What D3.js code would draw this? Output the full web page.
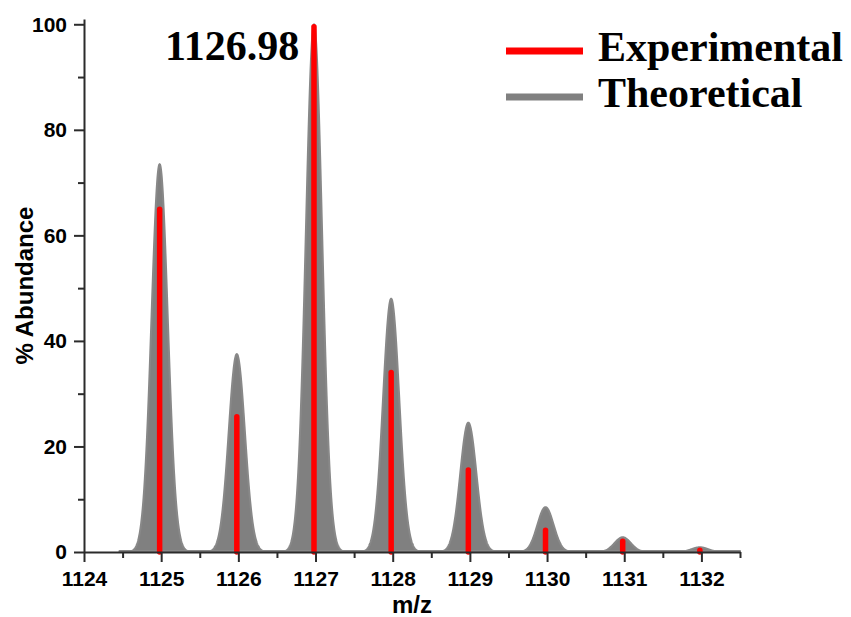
<!DOCTYPE html>
<html>
<head>
<meta charset="utf-8">
<script src="https://cdn.jsdelivr.net/npm/d3@7"></script>
<style>
  body { margin: 0; background: #fff; }
  .axis text { font-family: "Liberation Sans", Arial, sans-serif; font-weight: bold; font-size: 21px; fill: #000; }
  .axis path, .axis line { stroke: #2b2b2b; stroke-width: 2; }
</style>
</head>
<body>
<svg></svg>
<script>
var width = 851,
    height = 617

// theoretical isotope pattern (peak centres and % abundance)
var theoMz = [1124.98, 1125.98, 1126.98, 1127.98, 1128.98, 1129.98, 1130.98, 1131.98]
var theoAbund = [73.5, 37.5, 100, 48, 24.5, 8.5, 2.8, 0.9]

// experimental sticks
var expMz = [1124.98, 1125.98, 1126.98, 1127.98, 1128.98, 1129.98, 1130.98, 1131.98]
var expAbund = [65.4, 26.1, 100, 34.5, 16, 4.6, 2.5, 0.8]

var xTicks = [1124, 1125, 1126, 1127, 1128, 1129, 1130, 1131, 1132]
var xMinor = [1124.5, 1125.5, 1126.5, 1127.5, 1128.5, 1129.5, 1130.5, 1131.5, 1132.5]
var yTicks = [0, 20, 40, 60, 80, 100]
var yMinor = [10, 30, 50, 70, 90]

var peakLabel = "1126.98"
var legendItems = [
  {name: "Experimental", color: "#ff0000"},
  {name: "Theoretical", color: "#808080"}
]

var svg = d3.select("svg").attr("width", width).attr("height", height);

var x = d3.scaleLinear().domain([1124, 1132.5]).range([84, 740])
var y = d3.scaleLinear().domain([0, 101]).range([552, 19])

// gaussian profile for the theoretical peaks
var sigma = 0.105
var profile = d3.range(1124.46, 1132.5, 0.004).map(function(m) {
  var a = 0
  theoMz.forEach(function(c, i) {
    a += theoAbund[i] * Math.exp(-(m - c) * (m - c) / (2 * sigma * sigma))
  })
  return [m, a]
})
profile.push([1132.5, 0])

var area = d3.area()
  .x(function(d) { return x(d[0]) })
  .y0(y(0) - 1)
  .y1(function(d) { return y(d[1]) })

svg.append("path")
  .datum(profile)
  .attr("d", area)
  .attr("fill", "#808080")
  .attr("stroke", "#888")
  .attr("stroke-width", 2)
  .attr("stroke-linejoin", "round")

// experimental sticks
svg.selectAll(".stick")
  .data(expMz)
  .enter().append("line")
  .attr("class", "stick")
  .attr("x1", function(d) { return x(d) })
  .attr("x2", function(d) { return x(d) })
  .attr("y1", y(0))
  .attr("y2", function(d, i) { return y(expAbund[i]) + 2.5 })
  .attr("stroke", "#ff0000")
  .attr("stroke-width", 5.5)
  .attr("stroke-linecap", "round")

// axes
svg.append("g")
  .attr("class", "axis")
  .attr("transform", "translate(0," + y(0) + ")")
  .call(d3.axisBottom(x).tickValues(xTicks).tickSize(10).tickSizeOuter(0).tickPadding(9).tickFormat(d3.format("d")))

svg.append("g")
  .attr("class", "axis")
  .attr("transform", "translate(0," + y(0) + ")")
  .call(d3.axisBottom(x).tickValues(xMinor).tickSize(6).tickSizeOuter(0).tickFormat(""))
  .select(".domain").remove()

svg.append("g")
  .attr("class", "axis")
  .attr("transform", "translate(" + x(1124) + ",0)")
  .call(d3.axisLeft(y).tickValues(yTicks).tickSize(10).tickSizeOuter(0).tickPadding(7))

svg.append("g")
  .attr("class", "axis")
  .attr("transform", "translate(" + x(1124) + ",0)")
  .call(d3.axisLeft(y).tickValues(yMinor).tickSize(6).tickSizeOuter(0).tickFormat(""))
  .select(".domain").remove()

// axis titles
svg.append("text")
  .attr("x", (x.range()[0] + x.range()[1]) / 2)
  .attr("y", 613)
  .attr("text-anchor", "middle")
  .style("font-family", "'Liberation Sans', Arial, sans-serif")
  .style("font-weight", "bold")
  .style("font-size", "24px")
  .text("m/z")

svg.append("text")
  .attr("transform", "translate(33," + (y.range()[0] + y.range()[1]) / 2 + ") rotate(-90)")
  .attr("text-anchor", "middle")
  .style("font-family", "'Liberation Sans', Arial, sans-serif")
  .style("font-weight", "bold")
  .style("font-size", "24px")
  .text("% Abundance")

// peak label
svg.append("text")
  .attr("x", 165)
  .attr("y", 60)
  .style("font-family", "'Liberation Serif', 'Times New Roman', serif")
  .style("font-weight", "bold")
  .style("font-size", "42px")
  .text(peakLabel)

// legend
var legend = svg.selectAll(".legend")
  .data(legendItems)
  .enter().append("g")
  .attr("class", "legend")
  .attr("transform", function(d, i) { return "translate(506," + (51 + i * 46) + ")" })

legend.append("line")
  .attr("x1", 0)
  .attr("x2", 77)
  .attr("stroke", function(d) { return d.color })
  .attr("stroke-width", 7)

legend.append("text")
  .attr("x", 92)
  .attr("y", 10)
  .style("font-family", "'Liberation Serif', 'Times New Roman', serif")
  .style("font-weight", "bold")
  .style("font-size", "42px")
  .text(function(d) { return d.name })
</script>
</body>
</html>
